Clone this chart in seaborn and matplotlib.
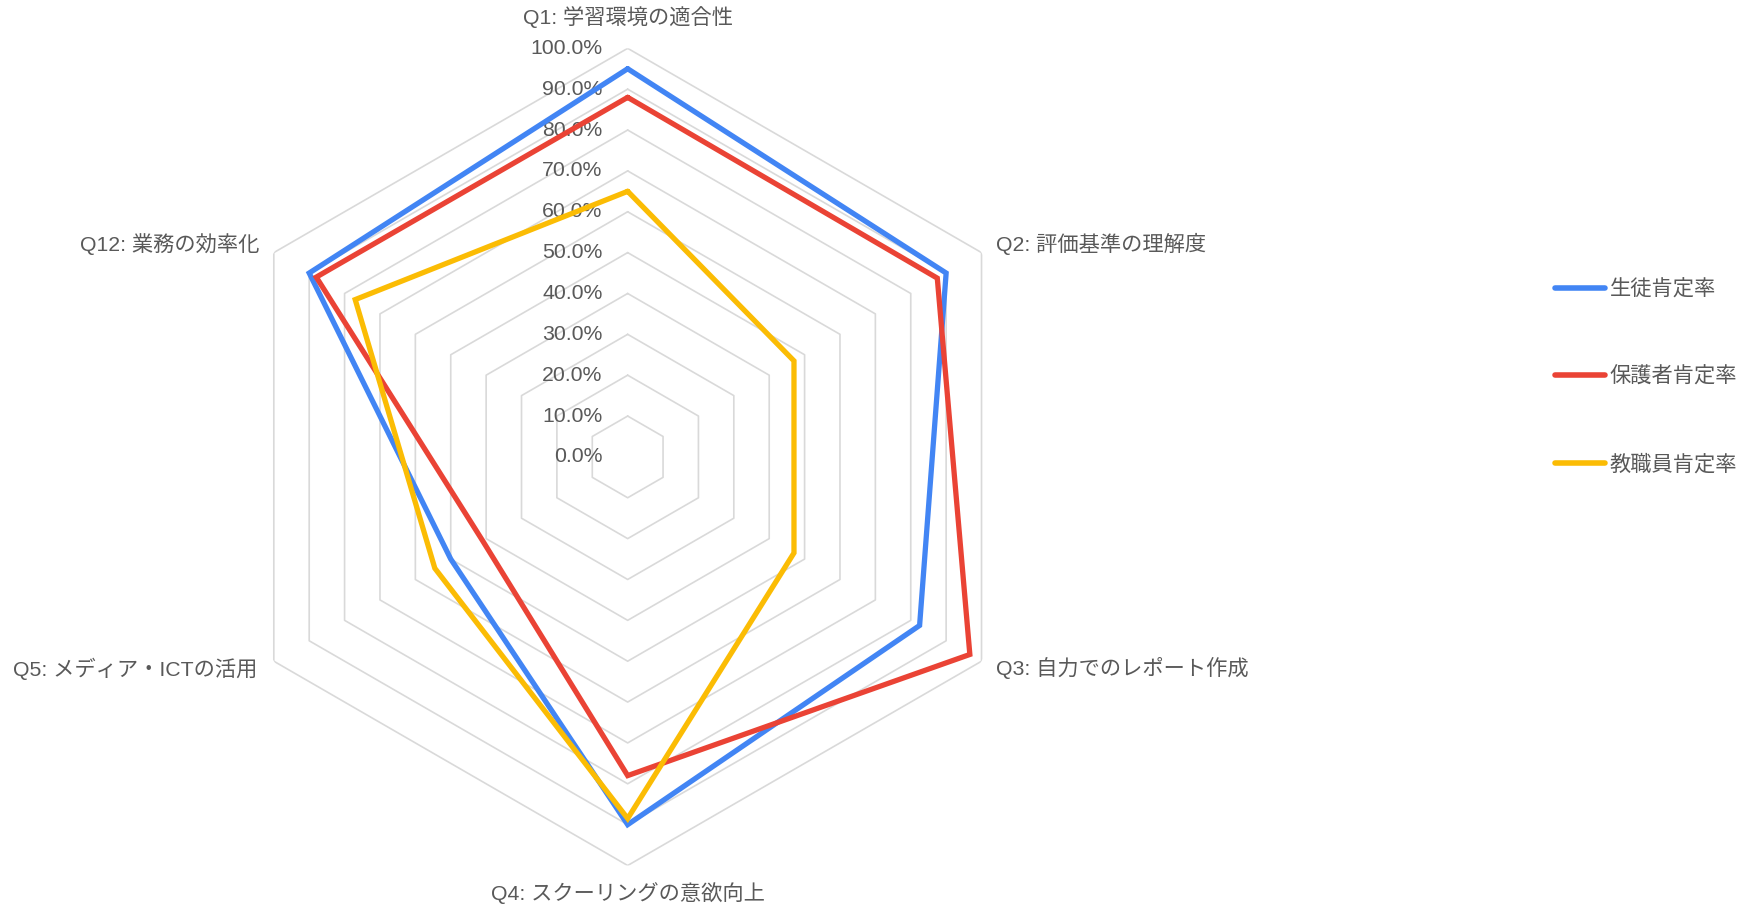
import numpy as np
import pandas as pd
import matplotlib
matplotlib.use('Agg')
import matplotlib.pyplot as plt
import seaborn as sns

# ---- data ----
categories = ['Q1: 学習環境の適合性', 'Q2: 評価基準の理解度', 'Q3: 自力でのレポート作成',
              'Q4: スクーリングの意欲向上', 'Q5: メディア・ICTの活用', 'Q12: 業務の効率化']
series_names = ['生徒肯定率', '保護者肯定率', '教職員肯定率']
student = [95.0, 90.0, 82.5, 90.0, 50.0, 90.0]
parent = [88.0, 87.5, 96.7, 78.0, 41.0, 88.0]
staff = [65.0, 47.0, 47.0, 88.5, 54.5, 77.0]
tick_values = [0, 10, 20, 30, 40, 50, 60, 70, 80, 90, 100]
colors = ['#4285F4', '#EA4335', '#FBBC04']

sns.set_style('white')
plt.rcParams['font.family'] = ['Liberation Sans', 'Noto Sans CJK JP', 'DejaVu Sans']
text_color = '#595959'
fs = 15.3

n = len(categories)
angles = np.linspace(0, 2 * np.pi, n, endpoint=False)

# long table, closed loop
rows = []
for name, vals in zip(series_names, [student, parent, staff]):
    for i in range(n + 1):
        k = i % n
        rows.append({'theta': angles[k] if i < n else 2 * np.pi, 'value': vals[k] / 100,
                     'series': name, 'order': i})
df = pd.DataFrame(rows)

fig = plt.figure(figsize=(17.54, 9.08), dpi=100)
ax = fig.add_axes([0.1249, 0.0468, 0.4659, 0.9], projection='polar')
ax.set_theta_zero_location('N')
ax.set_theta_direction(-1)
ax.set_ylim(0, 1.0)
ax.grid(False)
ax.spines['polar'].set_visible(False)
ax.set_xticks([])
ax.set_yticks([])

# hexagon gridlines
for t in tick_values[1:]:
    ax.plot(np.append(angles, angles[0]), [t / 100] * (n + 1), color='#d9d9d9', lw=1.2, zorder=1)

sns.lineplot(data=df, x='theta', y='value', hue='series', hue_order=series_names,
             palette=colors, sort=False, estimator=None, units='series', lw=3.8,
             ax=ax, zorder=3, solid_joinstyle='miter')
ax.set_xlabel('')
ax.set_ylabel('')

# radial tick labels
for t in tick_values:
    ax.annotate(f'{t:.1f}%', xy=(0, t / 100), xytext=(-25, 0), textcoords='offset pixels',
                ha='right', va='center', fontsize=fs, color=text_color, zorder=2)

# category labels
offsets = [(0, 31, 'center'), (14, 9, 'left'), (14, -7, 'left'),
           (0, -28, 'center'), (-16, -8, 'right'), (-14, 9, 'right')]
for ang, lab, (dx, dy, ha) in zip(angles, categories, offsets):
    ax.annotate(lab, xy=(ang, 1.0), xytext=(dx, dy), textcoords='offset pixels',
                ha=ha, va='center', fontsize=fs, color=text_color, annotation_clip=False)

handles, labels = ax.get_legend_handles_labels()
for h in handles:
    h.set_solid_capstyle('round')
    h.set_linewidth(4.0)
leg = ax.legend(handles, labels, loc='center left', bbox_to_anchor=(0.8754, 0.585),
                bbox_transform=fig.transFigure, frameon=False, fontsize=fs,
                handlelength=2.35, handletextpad=0.25, labelspacing=3.15)
for txt in leg.get_texts():
    txt.set_color(text_color)

fig.savefig('out.png', dpi=100)
